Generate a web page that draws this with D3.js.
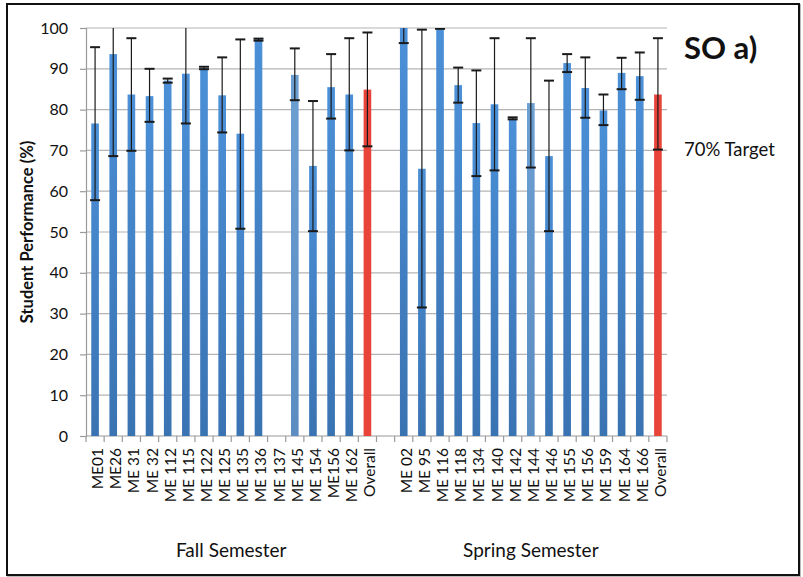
<!DOCTYPE html>
<html>
<head>
<meta charset="utf-8">
<script src="https://cdn.jsdelivr.net/npm/d3@7/dist/d3.min.js"></script>
<style>
  html, body { margin: 0; padding: 0; background: #fff; }
  svg { display: block; }
  text { font-family: Lato, "Open Sans", sans-serif; fill: #111; }
</style>
</head>
<body>
<script>
// Course codes along the x axis
const fallCourses = ["ME01", "ME26", "ME 31", "ME 32", "ME 112", "ME 115", "ME 122", "ME 125",
  "ME 135", "ME 136", "ME 137", "ME 145", "ME 154", "ME156", "ME 162", "Overall"];
const springCourses = ["ME 02", "ME 95", "ME 116", "ME 118", "ME 134", "ME 140", "ME 142", "ME 144",
  "ME 146", "ME 155", "ME 156", "ME 159", "ME 164", "ME 166", "Overall"];

// Mean performance (%) per course; null = no data
const fallValues = [76.6, 93.6, 83.7, 83.3, 87.1, 88.8, 90.2, 83.5, 74.1, 97.2, null, 88.5, 66.2, 85.5, 83.7, 84.9];
const springValues = [100, 65.5, 100, 86.0, 76.7, 81.3, 77.8, 81.6, 68.6, 91.4, 85.3, 79.8, 89.0, 88.2, 83.7];

// Error bar low / high (%) per course
const fallLow = [57.8, 68.6, 69.9, 77.0, 86.6, 76.6, 89.9, 74.4, 50.8, 96.9, null, 82.3, 50.2, 77.8, 70.0, 71.0];
const fallHigh = [95.3, 108.6, 97.5, 90.0, 87.6, 101.0, 90.5, 92.8, 97.2, 97.4, null, 95.0, 82.1, 93.6, 97.5, 98.9];
const springLow = [96.3, 31.5, 99.8, 81.7, 63.7, 65.1, 77.6, 65.8, 50.2, 89.2, 78.0, 76.2, 85.0, 82.4, 70.2];
const springHigh = [103.7, 99.6, 100.2, 90.3, 89.6, 97.5, 78.1, 97.5, 87.1, 93.6, 92.8, 83.7, 92.7, 94.0, 97.5];

const yTicks = [0, 10, 20, 30, 40, 50, 60, 70, 80, 90, 100];
const semesterNames = ["Fall Semester", "Spring Semester"];

// Courses whose bars are drawn in a paler blue
const paleCourses = new Set(["f11", "s7"]);

// One row per category slot, with a blank spacer between semesters
const rows = [];
fallCourses.forEach((c, i) => rows.push({ key: "f" + i, label: c, value: fallValues[i], low: fallLow[i], high: fallHigh[i], sem: 0 }));
rows.push({ key: "gap", label: "", value: null, low: null, high: null, sem: -1 });
springCourses.forEach((c, i) => rows.push({ key: "s" + i, label: c, value: springValues[i], low: springLow[i], high: springHigh[i], sem: 1 }));

const W = 803, H = 577;
const margin = { left: 86, right: 136, top: 28, bottom: 141 };
const plotW = W - margin.left - margin.right;
const plotH = H - margin.top - margin.bottom;

const svg = d3.select("body").append("svg").attr("width", W).attr("height", H);

// Frame around the whole figure
svg.append("rect").attr("x", 8).attr("y", 5).attr("width", 792).attr("height", 571)
  .attr("fill", "none").attr("stroke", "#bbb").attr("stroke-width", 2);
svg.append("rect").attr("x", 7).attr("y", 4).attr("width", 792).attr("height", 571)
  .attr("fill", "#fff").attr("stroke", "#111").attr("stroke-width", 2);

const defs = svg.append("defs");
function grad(id, top, bottom) {
  const lg = defs.append("linearGradient").attr("id", id).attr("x1", 0).attr("y1", 0).attr("x2", 0).attr("y2", 1);
  lg.append("stop").attr("offset", "0%").attr("stop-color", top);
  lg.append("stop").attr("offset", "100%").attr("stop-color", bottom);
}
grad("blueGrad", "#4b90d8", "#3a73b2");
grad("paleGrad", "#6c9fd2", "#5a8cc2");
defs.append("clipPath").attr("id", "plotClip").append("rect")
  .attr("x", -10).attr("y", 0).attr("width", plotW + 20).attr("height", plotH);

const g = svg.append("g").attr("transform", `translate(${margin.left},${margin.top})`);

const x = d3.scaleBand().domain(rows.map(d => d.key)).range([0, plotW]).paddingInner(0).paddingOuter(0);
const y = d3.scaleLinear().domain([0, 100]).range([plotH, 0]);

// Horizontal gridlines
g.append("g").selectAll("line").data(yTicks.filter(t => t > 0)).join("line")
  .attr("x1", 0).attr("x2", plotW)
  .attr("y1", d => y(d)).attr("y2", d => y(d))
  .attr("stroke", "#b4b4b4").attr("stroke-width", 1.2);

// Y axis
const yAxis = g.append("g").call(d3.axisLeft(y).tickValues(yTicks).tickSize(6).tickPadding(12));
yAxis.select(".domain").attr("stroke", "#9a9a9a").attr("stroke-width", 1.2);
yAxis.selectAll(".tick line").attr("stroke", "#9a9a9a").attr("stroke-width", 1.2);
yAxis.selectAll(".tick text").style("font-size", "16px").attr("fill", "#111");

// X axis: tick marks sit on band boundaries
const bw = x.bandwidth();
const xAxisG = g.append("g").attr("transform", `translate(0,${plotH})`);
xAxisG.append("line").attr("x1", 0).attr("x2", plotW).attr("stroke", "#9a9a9a").attr("stroke-width", 1.2);
xAxisG.selectAll("line.tk").data(d3.range(rows.length + 1)).join("line").attr("class", "tk")
  .attr("x1", i => i * bw).attr("x2", i => i * bw).attr("y1", 0).attr("y2", 6)
  .attr("stroke", "#9a9a9a").attr("stroke-width", 1.2);

// Category labels, rotated
xAxisG.selectAll("text.cat").data(rows.filter(d => d.label)).join("text").attr("class", "cat")
  .attr("transform", d => `translate(${x(d.key) + bw / 2 + 8},12) rotate(-90)`)
  .attr("text-anchor", "end")
  .style("font-size", "15.5px")
  .text(d => d.label);

// Bars
const barW = bw * 0.42;
const plot = g.append("g").attr("clip-path", "url(#plotClip)");
plot.selectAll("rect.bar").data(rows.filter(d => d.value != null)).join("rect").attr("class", "bar")
  .attr("x", d => x(d.key) + (bw - barW) / 2)
  .attr("width", barW)
  .attr("y", d => y(d.value))
  .attr("height", d => plotH - y(d.value))
  .attr("fill", d => d.label === "Overall" ? "#e8443a" : paleCourses.has(d.key) ? "url(#paleGrad)" : "url(#blueGrad)");

// Error bars
const capW = 10;
const err = plot.selectAll("g.err").data(rows.filter(d => d.low != null)).join("g").attr("class", "err")
  .attr("transform", d => `translate(${x(d.key) + bw / 2},0)`);
err.append("line").attr("x1", 0).attr("x2", 0)
  .attr("y1", d => y(d.low)).attr("y2", d => y(d.high))
  .attr("stroke", "#1a1a1a").attr("stroke-width", 1.2);
err.append("line").attr("x1", -capW / 2).attr("x2", capW / 2)
  .attr("y1", d => y(d.low)).attr("y2", d => y(d.low))
  .attr("stroke", "#1a1a1a").attr("stroke-width", 2);
err.append("line").attr("x1", -capW / 2).attr("x2", capW / 2)
  .attr("y1", d => y(d.high)).attr("y2", d => y(d.high))
  .attr("stroke", "#1a1a1a").attr("stroke-width", 2);

// Semester group labels centred under each group
[0, 1].forEach(s => {
  const grp = rows.filter(d => d.sem === s);
  const cx = (x(grp[0].key) + x(grp[grp.length - 1].key) + bw) / 2;
  g.append("text").attr("x", cx).attr("y", 529)
    .attr("text-anchor", "middle").style("font-size", "19px")
    .text(semesterNames[s]);
});

// Y axis title
svg.append("text")
  .attr("transform", `translate(33,232) rotate(-90)`)
  .attr("text-anchor", "middle")
  .style("font-size", "16.5px").style("font-weight", "bold")
  .text("Student Performance (%)");

// Title and target note on the right
svg.append("text").attr("x", 684).attr("y", 59)
  .style("font-size", "31px").style("font-weight", "bold").text("SO a)");
svg.append("text").attr("x", 684).attr("y", 156)
  .style("font-size", "18.5px").text("70% Target");
</script>
</body>
</html>
